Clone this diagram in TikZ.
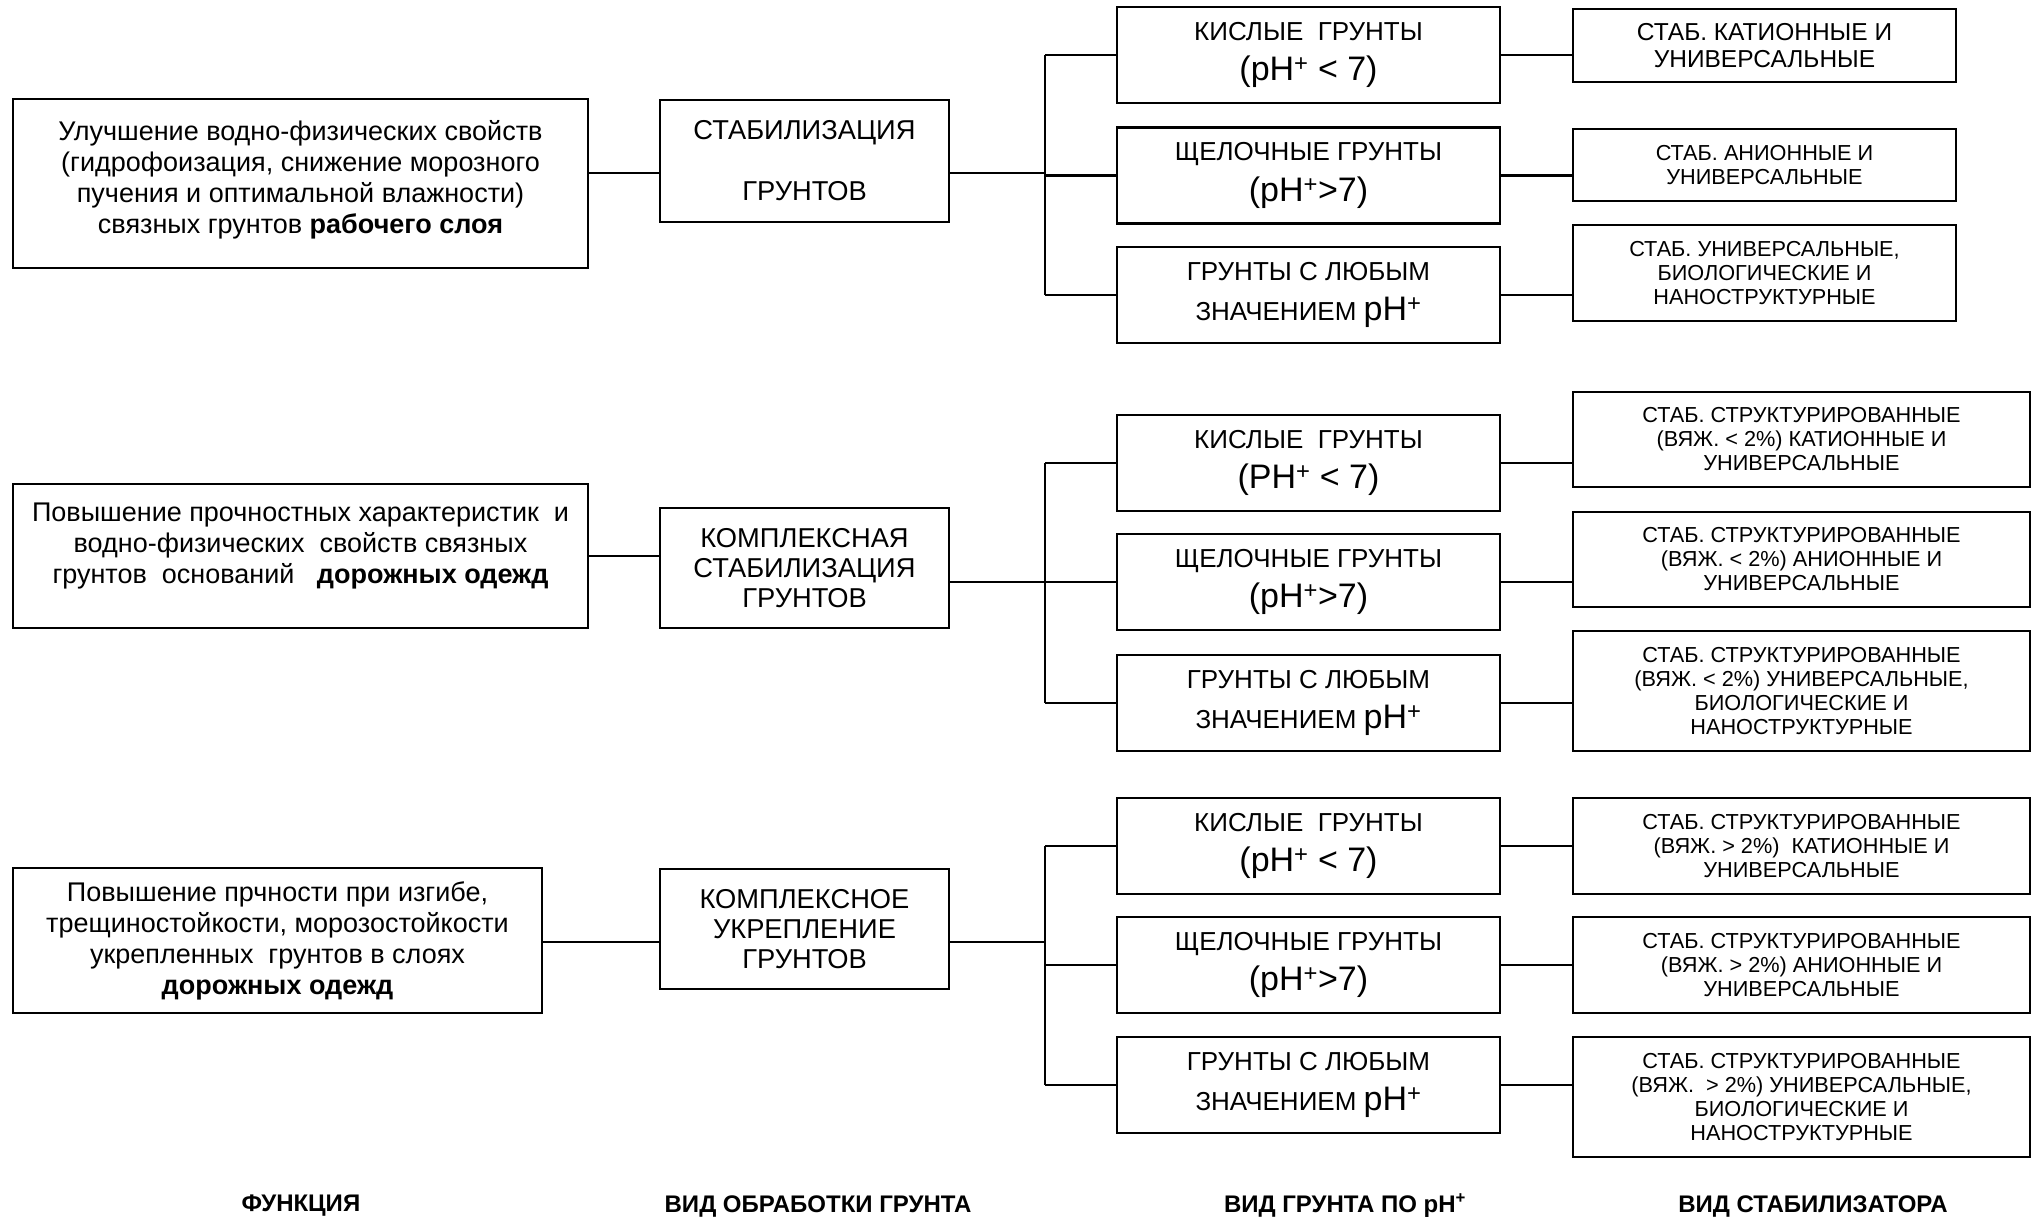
\documentclass[tikz,border=0pt]{standalone}
\usepackage{fontspec}
\setmainfont{Liberation Sans}
\newcommand{\phsize}{\fontsize{34}{38}\selectfont}
\tikzset{
  scheme/.style={
    x=1pt, y=-1pt,
    line width=2.5pt
  },
  funcbox/.style={                 % function of the treatment
    draw, line width=2.5pt,
    inner sep=4pt,
    align=center,
    font=\fontsize{27}{31}\selectfont
  },
  treatbox/.style={                % kind of soil treatment
    draw, line width=2.5pt,
    inner sep=4pt,
    minimum width=289pt, minimum height=120pt,
    align=center,
    font=\fontsize{27.3}{30}\selectfont
  },
  phbox/.style={                   % kind of soil by pH
    draw, line width=2.5pt,
    inner sep=4pt,
    minimum width=383pt, minimum height=96pt,
    align=center,
    font=\fontsize{26}{40.5}\selectfont
  },
  stabbox/.style={                 % kind of stabiliser
    draw, line width=2.5pt,
    inner sep=4pt,
    minimum width=383pt, minimum height=96pt,
    align=center,
    font=\fontsize{21.7}{24}\selectfont
  },
  link/.style={line width=2.5pt},
  collabel/.style={font=\fontsize{24}{28}\selectfont\bfseries}
}

\begin{document}
\begin{tikzpicture}[scheme]
\useasboundingbox (0,0) rectangle (2035,1220);

% Row 1: stabilisation
\node[funcbox, minimum width=575pt, minimum height=169pt] (func1) at (300.5,183.5)
  {Улучшение водно-физических свойств\\(гидрофоизация, снижение морозного\\пучения и оптимальной влажности)\\связных грунтов \textbf{рабочего слоя}\\[-18pt]\mbox{}};
\node[treatbox, minimum height=122pt] (treat1) at (804.5,161) {СТАБИЛИЗАЦИЯ\\[31pt]ГРУНТОВ};
\node[phbox] (ph1a) at (1308.5,55) {КИСЛЫЕ\ \ ГРУНТЫ\\{\phsize (pH\textsuperscript{+} < 7)}};
\node[phbox] (ph1b) at (1308.5,175.5) {ЩЕЛОЧНЫЕ ГРУНТЫ\\{\phsize (pH\textsuperscript{+}>7)}};
\node[phbox] (ph1c) at (1308.5,295) {ГРУНТЫ С ЛЮБЫМ\\ЗНАЧЕНИЕМ {\phsize pH\textsuperscript{+}}};
\node[stabbox, minimum height=73pt, font=\fontsize{24.5}{26.5}\selectfont] (stab1a) at (1764.5,45.5)
  {СТАБ. КАТИОННЫЕ И\\УНИВЕРСАЛЬНЫЕ};
\node[stabbox, minimum height=72pt] (stab1b) at (1764.5,165) {СТАБ. АНИОННЫЕ И\\УНИВЕРСАЛЬНЫЕ};
\node[stabbox] (stab1c) at (1764.5,273) {СТАБ. УНИВЕРСАЛЬНЫЕ,\\БИОЛОГИЧЕСКИЕ И\\НАНОСТРУКТУРНЫЕ};
\coordinate (j1) at (1045,173);

% Row 2: complex stabilisation
\node[funcbox, minimum width=575pt, minimum height=144pt] (func2) at (300.5,556)
  {Повышение прочностных характеристик\ \ и\\водно-физических\ \ свойств связных\\грунтов\ \ оснований\ \ \ \textbf{дорожных одежд}\\[-5pt]\mbox{}};
\node[treatbox] (treat2) at (804.5,568) {КОМПЛЕКСНАЯ\\СТАБИЛИЗАЦИЯ\\ГРУНТОВ};
\node[phbox] (ph2a) at (1308.5,463) {КИСЛЫЕ\ \ ГРУНТЫ\\{\phsize (PH\textsuperscript{+} < 7)}};
\node[phbox] (ph2b) at (1308.5,582) {ЩЕЛОЧНЫЕ ГРУНТЫ\\{\phsize (pH\textsuperscript{+}>7)}};
\node[phbox] (ph2c) at (1308.5,703) {ГРУНТЫ С ЛЮБЫМ\\ЗНАЧЕНИЕМ {\phsize pH\textsuperscript{+}}};
\node[stabbox, minimum width=457pt, minimum height=95pt] (stab2a) at (1801.5,439.5)
  {СТАБ. СТРУКТУРИРОВАННЫЕ\\(ВЯЖ. < 2\%) КАТИОННЫЕ И\\УНИВЕРСАЛЬНЫЕ};
\node[stabbox, minimum width=457pt, minimum height=95pt] (stab2b) at (1801.5,559.5)
  {СТАБ. СТРУКТУРИРОВАННЫЕ\\(ВЯЖ. < 2\%) АНИОННЫЕ И\\УНИВЕРСАЛЬНЫЕ};
\node[stabbox, minimum width=457pt, minimum height=120pt] (stab2c) at (1801.5,691)
  {СТАБ. СТРУКТУРИРОВАННЫЕ\\(ВЯЖ. < 2\%) УНИВЕРСАЛЬНЫЕ,\\БИОЛОГИЧЕСКИЕ И\\НАНОСТРУКТУРНЫЕ};
\coordinate (j2) at (1045,582);

% Row 3: complex strengthening
\node[funcbox, minimum width=529pt, minimum height=145pt] (func3) at (277.5,940.5)
  {Повышение прчности при изгибе,\\трещиностойкости, морозостойкости\\укрепленных\ \ грунтов в слоях\\\textbf{дорожных одежд}};
\node[treatbox] (treat3) at (804.5,929) {КОМПЛЕКСНОЕ\\УКРЕПЛЕНИЕ\\ГРУНТОВ};
\node[phbox] (ph3a) at (1308.5,846) {КИСЛЫЕ\ \ ГРУНТЫ\\{\phsize (pH\textsuperscript{+} < 7)}};
\node[phbox] (ph3b) at (1308.5,965) {ЩЕЛОЧНЫЕ ГРУНТЫ\\{\phsize (pH\textsuperscript{+}>7)}};
\node[phbox] (ph3c) at (1308.5,1085) {ГРУНТЫ С ЛЮБЫМ\\ЗНАЧЕНИЕМ {\phsize pH\textsuperscript{+}}};
\node[stabbox, minimum width=457pt] (stab3a) at (1801.5,846)
  {СТАБ. СТРУКТУРИРОВАННЫЕ\\(ВЯЖ. > 2\%)\ \ КАТИОННЫЕ И\\УНИВЕРСАЛЬНЫЕ};
\node[stabbox, minimum width=457pt] (stab3b) at (1801.5,965)
  {СТАБ. СТРУКТУРИРОВАННЫЕ\\(ВЯЖ. > 2\%) АНИОННЫЕ И\\УНИВЕРСАЛЬНЫЕ};
\node[stabbox, minimum width=457pt, minimum height=120pt] (stab3c) at (1801.5,1097)
  {СТАБ. СТРУКТУРИРОВАННЫЕ\\(ВЯЖ.\ \ > 2\%) УНИВЕРСАЛЬНЫЕ,\\БИОЛОГИЧЕСКИЕ И\\НАНОСТРУКТУРНЫЕ};
\coordinate (j3) at (1045,942);

% Links function -> treatment -> bus
\draw[link] (func1.east |- j1) -- (treat1.west |- j1);
\draw[link] (treat1.east |- j1) -- (j1);
\draw[link] (func2.east) -- (func2.east -| treat2.west);
\draw[link] (treat2.east |- j2) -- (j2);
\draw[link] (func3.east |- j3) -- (treat3.west |- j3);
\draw[link] (treat3.east |- j3) -- (j3);

% Buses and links to the pH boxes and stabilisers
\foreach \r in {1,2,3} {
  \draw[link] (ph\r a.west -| j\r) -- (ph\r c.west -| j\r);
  \foreach \c in {a,b,c} {
    \draw[link] (ph\r\c.west -| j\r) -- (ph\r\c.west);
    \draw[link] (ph\r\c.east) -- (ph\r\c.east -| stab\r\c.west);
  }
}

% Column captions
\node[collabel] (capfunc) at (301,1206) {ФУНКЦИЯ};
\node[collabel] (captreat) at (818,1206) {ВИД ОБРАБОТКИ ГРУНТА};
\node[collabel] (capph) at (1345,1206) {ВИД ГРУНТА ПО pH\textsuperscript{+}};
\node[collabel] (capstab) at (1813,1206) {ВИД СТАБИЛИЗАТОРА};
\end{tikzpicture}
\end{document}
